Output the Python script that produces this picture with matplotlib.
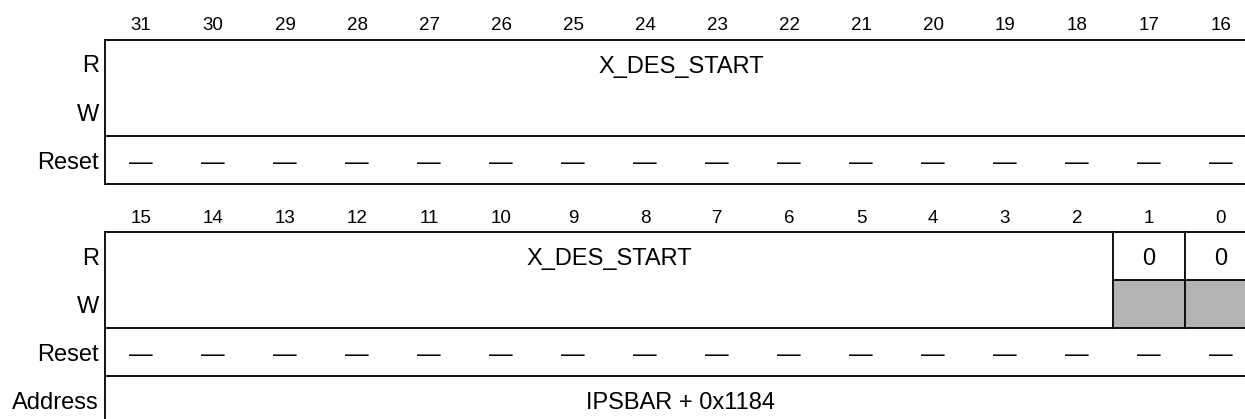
import matplotlib.pyplot as plt
from matplotlib.patches import Rectangle

plt.rcParams['font.family'] = ['Liberation Sans', 'DejaVu Sans']

# --- datos del registro ---
bits_alto = list(range(31, 15, -1))
bits_bajo = list(range(15, -1, -1))
campos_alto = [("X_DES_START", 31, 16, False)]
campos_bajo = [("X_DES_START", 15, 2, False), ("0", 1, 1, True), ("0", 0, 0, True)]
reset_alto = ["—"] * 16
reset_bajo = ["—"] * 16
etiquetas_filas = ["R", "W", "Reset"]
direccion = "IPSBAR + 0x1184"

# --- geometría (pixeles) ---
X0 = 105      # borde izquierdo
COL = 72      # ancho de bit
FILA = 48     # alto de fila
LW = 1.3
GRIS = "#b3b3b3"
F_NUM = 13.5
F_TXT = 17


def xbit(bits, b):
    # borde izquierdo de la columna del bit b
    return X0 + bits.index(b) * COL


fig = plt.figure(figsize=(12.45, 4.19), dpi=100)
ax = fig.add_axes([0, 0, 1, 1])
ax.set_xlim(0, 1245)
ax.set_ylim(419, 0)
ax.axis("off")
x_fin = X0 + 16 * COL


def dibujar_registro(y0, bits, campos, reset, con_direccion):
    # números de bit
    for i, b in enumerate(bits):
        ax.text(X0 + (i + 0.5) * COL, y0 - 16, str(b), ha="center",
                va="center_baseline", fontsize=F_NUM)
    # etiquetas de filas
    for k, et in enumerate(etiquetas_filas):
        ax.text(X0 - 6, y0 + (k + 0.5) * FILA, et, ha="right",
                va="center_baseline", fontsize=F_TXT)
    y_fin = y0 + 3 * FILA
    # campos
    for nombre, hi, lo, reservado in campos:
        xa = xbit(bits, hi)
        xb = xbit(bits, lo) + COL
        if reservado:
            ax.add_patch(Rectangle((xa, y0 + FILA), xb - xa, FILA,
                                   facecolor=GRIS, edgecolor="none"))
            ax.plot([xa, xb], [y0 + FILA, y0 + FILA], color="black", lw=LW)
        ax.text((xa + xb) / 2, y0 + 0.5 * FILA, nombre, ha="center",
                va="center_baseline", fontsize=F_TXT)
        if xa > X0:
            ax.plot([xa, xa], [y0, y0 + 2 * FILA], color="black", lw=LW)
    # valores de reset
    for i, v in enumerate(reset):
        ax.text(X0 + (i + 0.5) * COL, y0 + 2.5 * FILA, v, ha="center",
                va="center_baseline", fontsize=F_TXT)
    # líneas horizontales
    for y in (y0, y0 + 2 * FILA, y_fin):
        ax.plot([X0, x_fin], [y, y], color="black", lw=LW)
    if con_direccion:
        y_fin = y0 + 4 * FILA
        ax.text(X0 - 6, y0 + 3.5 * FILA, "Address", ha="right",
                va="center_baseline", fontsize=F_TXT)
        ax.text((X0 + x_fin) / 2, y0 + 3.5 * FILA, direccion, ha="center",
                va="center_baseline", fontsize=F_TXT)
    ax.plot([X0, X0], [y0, y_fin], color="black", lw=LW)
    ax.plot([x_fin, x_fin], [y0, y_fin], color="black", lw=LW)


dibujar_registro(40, bits_alto, campos_alto, reset_alto, False)
dibujar_registro(40 + 4 * FILA, bits_bajo, campos_bajo, reset_bajo, True)

fig.savefig("out.png", dpi=100)
